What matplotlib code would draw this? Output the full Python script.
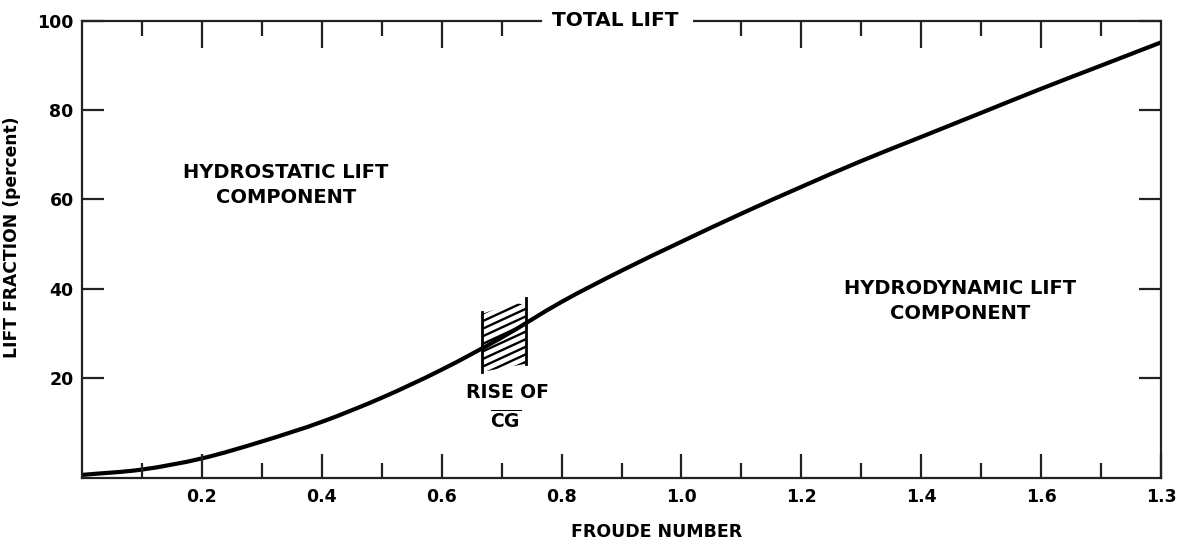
import numpy as np
import matplotlib
matplotlib.use("Agg")
import matplotlib.pyplot as plt
from matplotlib.patches import Polygon, PathPatch
from matplotlib.path import Path

plt.rcParams['font.family'] = ['DejaVu Sans']
plt.rcParams['mathtext.fontset'] = 'custom'
plt.rcParams['mathtext.bf'] = 'DejaVu Sans:bold'
plt.rcParams['mathtext.rm'] = 'DejaVu Sans:bold'

# lift curve
froude = [0.0, 0.1, 0.2, 0.3, 0.4, 0.5, 0.6, 0.7, 0.8, 0.9,
          1.0, 1.1, 1.2, 1.3, 1.4, 1.5, 1.6, 1.7, 1.8]
lift = [-1.8, -0.6, 1.9, 5.7, 10.1, 15.5, 21.8, 29.0, 37.0, 44.0,
        50.5, 56.8, 62.8, 68.6, 74.0, 79.4, 84.8, 90.0, 95.2]

# rise of CG box: x of the two sides, low and high ends
box_x = [0.667, 0.740]
box_low = [21.3, 23.1]
box_high = [34.8, 37.8]

x_tick_pos = [0.2, 0.4, 0.6, 0.8, 1.0, 1.2, 1.4, 1.6, 1.8]
x_tick_labels = ['0.2', '0.4', '0.6', '0.8', '1.0', '1.2', '1.4', '1.6', '1.3']
x_minor = [0.1, 0.3, 0.5, 0.7, 0.9, 1.1, 1.3, 1.5, 1.7]
top_major = [0.2, 0.4, 0.6, 1.2, 1.4, 1.6]
top_minor = [0.1, 0.3, 0.5, 0.7, 1.1, 1.3, 1.5, 1.7]
y_tick_pos = [20, 40, 60, 80, 100]
y_tick_labels = ['20', '40', '60', '80', '100']

gap = (0.765, 1.02)  # break in top frame for the TOTAL LIFT label


def smooth_path(xs, ys):
    # Catmull-Rom through the points, as cubic Bezier segments
    p = np.column_stack([xs, ys]).astype(float)
    p = np.vstack([p[0] - (p[1] - p[0]), p, p[-1] + (p[-1] - p[-2])])
    verts = [p[1]]
    codes = [Path.MOVETO]
    for i in range(1, len(p) - 2):
        c1 = p[i] + (p[i + 1] - p[i - 1]) / 6
        c2 = p[i + 1] - (p[i + 2] - p[i]) / 6
        verts += [c1, c2, p[i + 1]]
        codes += [Path.CURVE4] * 3
    return Path(verts, codes)


fig = plt.figure(figsize=(11.77, 5.44), dpi=100)
ax = fig.add_axes([0.0697, 0.1213, 0.9167, 0.8401])
ax.set_xlim(0, 1.8)
ax.set_ylim(-2.5, 100)

lw_frame = 1.6
for s in ax.spines.values():
    s.set_linewidth(lw_frame)
    s.set_color('#222222')
ax.spines['top'].set_bounds(0, gap[0])
ax.plot([gap[1], 1.8], [100, 100], color='#222222', lw=lw_frame,
        clip_on=False, solid_capstyle='butt')

ax.add_patch(PathPatch(smooth_path(froude, lift), facecolor='none',
                       edgecolor='black', lw=3.0, capstyle='round'))

# hatched box
ax.plot([box_x[0]] * 2, [box_low[0], box_high[0]], color='black', lw=2.0)
ax.plot([box_x[1]] * 2, [box_low[1], box_high[1]], color='black', lw=2.0)
poly = Polygon([[box_x[0], box_low[0]], [box_x[1], box_low[1]],
                [box_x[1], box_high[1] - 1.5], [box_x[0] + 0.055, box_high[1] - 1.0],
                [box_x[0], box_high[0] - 0.5]],
               closed=True, facecolor='none', edgecolor='none')
ax.add_patch(poly)
hx = np.array(box_x)
for k in range(12):
    y0 = box_low[0] - 4 + k * 1.7
    ln, = ax.plot(hx, y0 + 62 * (hx - hx[0]), color='black', lw=1.7)
    ln.set_clip_path(poly)

# ticks
ax.set_xticks(x_tick_pos)
ax.set_xticklabels(x_tick_labels)
ax.set_xticks(x_minor, minor=True)
ax.set_yticks(y_tick_pos)
ax.set_yticklabels(y_tick_labels)
ax.tick_params(axis='x', which='major', direction='in', length=17, width=1.6,
               pad=7, labelsize=12.5, colors='#222222', labelcolor='black')
ax.tick_params(axis='x', which='minor', direction='in', length=10.5, width=1.6,
               colors='#222222')
ax.tick_params(axis='y', which='major', direction='in', length=16, width=1.6,
               pad=6, labelsize=12.5, right=True, colors='#222222', labelcolor='black')

sec = ax.secondary_xaxis('top')
sec.spines['top'].set_visible(False)
sec.set_xticks(top_major)
sec.set_xticks(top_minor, minor=True)
sec.tick_params(which='major', direction='in', length=19.5, width=1.6,
                labeltop=False, colors='#222222')
sec.tick_params(which='minor', direction='in', length=11, width=1.6,
                colors='#222222')

for lab in ax.get_xticklabels() + ax.get_yticklabels():
    lab.set_fontweight('bold')

ax.set_xlabel('FROUDE NUMBER', fontsize=12.5, fontweight='bold')
ax.xaxis.set_label_coords(0.533, -0.099)
ax.set_ylabel('LIFT FRACTION (percent)', fontsize=12.3, fontweight='bold')
ax.yaxis.set_label_coords(-0.057, 0.527)

ax.text(0.89, 100, 'TOTAL LIFT', ha='center', va='center', fontsize=14.5,
        fontweight='bold', clip_on=False)
ax.text(0.34, 63.2, 'HYDROSTATIC LIFT\nCOMPONENT', ha='center', va='center',
        fontsize=14, fontweight='bold', linespacing=1.4)
ax.text(1.465, 37.2, 'HYDRODYNAMIC LIFT\nCOMPONENT', ha='center', va='center',
        fontsize=14, fontweight='bold', linespacing=1.4)
ax.text(0.71, 16.6, 'RISE OF', ha='center', va='center', fontsize=13.5,
        fontweight='bold')
ax.text(0.707, 10.3, r'$\overline{\mathbf{CG}}$', ha='center', va='center',
        fontsize=13.5)

fig.savefig('out.png', dpi=100)
